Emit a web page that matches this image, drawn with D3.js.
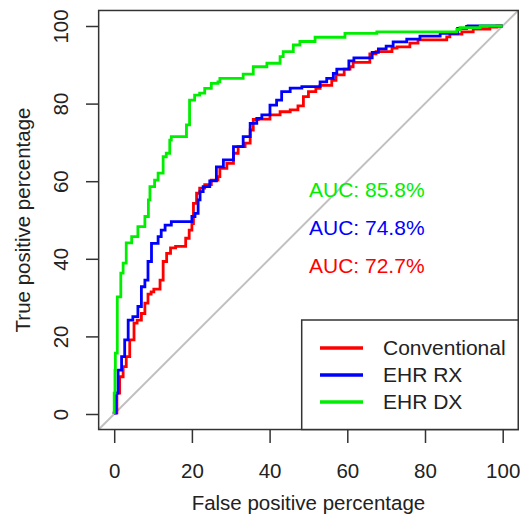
<!DOCTYPE html>
<html>
<head>
<meta charset="utf-8">
<script src="https://cdn.jsdelivr.net/npm/d3@7"></script>
<style>
  body { margin: 0; background: #fff; }
  text { font-family: "Liberation Sans", Arial, sans-serif; }
</style>
</head>
<body>
<div class="canvas"></div>
<script>
// ROC curves, values in percent (false positive %, true positive %)
let fprConventional = [0, 0.7, 1.4, 2.3, 3.1, 4.0, 5.1, 5.9, 7.0, 7.9, 8.7, 9.5, 10.2, 11.8, 12.6, 13.5, 14.5, 15.8, 18.4, 19.3, 20.0, 20.4, 21.2, 22.0, 23.3, 25.0, 26.7, 27.2, 29.0, 30.7, 31.9, 33.7, 35.0, 35.8, 37.1, 40.1, 42.7, 45.3, 47.3, 48.7, 50.0, 51.9, 53.0, 56.0, 57.1, 59.2, 60.7, 61.5, 65.8, 67.4, 71.5, 72.8, 76.1, 78.2, 85.6, 86.4, 89.5, 92.4, 96.7, 98.5, 100];
let tprConventional = [0, 0.3, 5.4, 9.6, 12.2, 14.8, 19.1, 23.4, 24.2, 25.9, 28.6, 30.9, 31.5, 32.2, 34.5, 39.3, 41.4, 42.8, 43.2, 45.3, 47.4, 49.1, 54.3, 56.9, 58.2, 59.1, 60.3, 61.2, 63.3, 64.6, 67.2, 68.9, 69.8, 73.2, 75.9, 76.0, 77.1, 77.9, 78.4, 79.4, 81.8, 83.1, 83.9, 84.7, 86.0, 87.4, 88.9, 89.5, 90.6, 92.8, 93.4, 94.3, 94.6, 95.6, 96.4, 97.2, 97.9, 98.5, 99.2, 99.7, 100];

let fprRx = [0, 0.5, 1.0, 1.9, 2.7, 3.6, 4.8, 6.1, 7.0, 7.9, 8.7, 9.6, 11.3, 12.1, 13.1, 14.7, 16.4, 20.0, 20.8, 21.6, 22.1, 22.9, 24.6, 26.3, 28.1, 30.7, 33.2, 35.0, 36.7, 38.0, 40.1, 41.8, 43.1, 45.3, 48.3, 53.0, 54.7, 56.4, 57.3, 60.4, 61.7, 66.4, 68.0, 70.0, 71.8, 75.3, 78.7, 83.9, 88.4, 90.7, 91.1, 100];
let tprRx = [0, 0.2, 5.4, 11.3, 14.8, 19.1, 24.2, 25.1, 27.7, 32.8, 34.5, 39.3, 44.0, 45.7, 47.4, 48.7, 49.6, 49.6, 50.9, 51.7, 55.2, 57.3, 58.6, 60.1, 63.7, 65.5, 68.9, 71.5, 74.9, 76.2, 77.1, 79.6, 80.9, 83.1, 84.0, 84.4, 85.6, 86.5, 87.8, 88.9, 91.0, 91.8, 93.2, 94.1, 94.8, 95.9, 96.6, 97.4, 98.1, 99.4, 99.9, 100];

let fprDx = [0, 0.2, 0.3, 0.8, 1.7, 2.3, 3.1, 4.5, 6.1, 7.9, 8.8, 9.2, 10.4, 11.3, 12.6, 13.4, 14.3, 14.7, 16.0, 18.6, 19.4, 20.7, 22.0, 23.3, 25.0, 26.7, 27.2, 33.2, 35.8, 39.3, 42.7, 43.5, 46.1, 47.8, 51.7, 59.4, 67.6, 88.2, 89.0, 94.2, 100];
let tprDx = [0, 5.4, 11.3, 15.7, 30.2, 36.3, 38.9, 44.1, 45.7, 48.3, 50.9, 55.2, 58.6, 60.3, 62.1, 66.3, 67.2, 70.6, 71.5, 71.5, 74.5, 80.9, 82.2, 82.7, 83.9, 85.2, 85.6, 86.5, 87.6, 89.5, 90.4, 92.1, 93.4, 95.1, 96.0, 97.1, 98.1, 98.5, 99.1, 99.6, 100];

let seriesNames = ['Conventional', 'EHR RX', 'EHR DX'];
let seriesColors = ['#ff0000', '#0000ff', '#00ee00'];
let aucLabels = ['AUC: 72.7%', 'AUC: 74.8%', 'AUC: 85.8%'];
let tickValues = [0, 20, 40, 60, 80, 100];

let svg = d3.select(".canvas").append("svg").attr("width", 520).attr("height", 518);

let x = d3.scaleLinear().domain([0, 100]).range([114.2, 502.7]);
let y = d3.scaleLinear().domain([0, 100]).range([414, 26]);

// diagonal (chance) line across the plot region
svg.append('line')
    .attr('x1', x(-4)).attr('y1', y(-4))
    .attr('x2', x(104)).attr('y2', y(104))
    .attr('stroke', '#c0c0c0')
    .attr('stroke-width', 2);

// curves
let curves = [
    d3.zip(fprConventional, tprConventional),
    d3.zip(fprRx, tprRx),
    d3.zip(fprDx, tprDx)
];

let line = d3.line().x(d => x(d[0])).y(d => y(d[1])).curve(d3.curveStepBefore);

curves.forEach((pts, i) => {
    svg.append('path')
        .attr('d', line(pts))
        .attr('fill', 'none')
        .attr('stroke', seriesColors[i])
        .attr('stroke-width', 2.8);
});

// AUC labels
let aucY = [273, 235, 196.5];
aucLabels.forEach((t, i) => {
    svg.append('text')
        .text(t)
        .attr('x', 309)
        .attr('y', aucY[i])
        .attr('font-size', 21)
        .attr('fill', seriesColors[i]);
});

// axes
let xAxis = svg.append('g')
    .attr('transform', 'translate(0,430)')
    .call(d3.axisBottom(x).tickValues(tickValues).tickSize(13).tickPadding(20));
xAxis.select('.domain').remove();
xAxis.selectAll('line').attr('stroke', '#333').attr('stroke-width', 1.5);
xAxis.selectAll('text').attr('font-size', 20.5).attr('fill', '#222')
    .attr('font-family', '"Liberation Sans", Arial, sans-serif');

let yAxis = svg.append('g')
    .attr('transform', 'translate(99,0)')
    .call(d3.axisLeft(y).tickValues(tickValues).tickSize(13));
yAxis.select('.domain').remove();
yAxis.selectAll('line').attr('stroke', '#333').attr('stroke-width', 1.5);
yAxis.selectAll('text')
    .attr('x', null).attr('dy', null)
    .attr('transform', 'translate(-31,0) rotate(-90)')
    .attr('text-anchor', 'middle')
    .attr('font-size', 20.5).attr('fill', '#222')
    .attr('font-family', '"Liberation Sans", Arial, sans-serif');

// plot box
svg.append('rect')
    .attr('x', x(-4)).attr('y', y(104))
    .attr('width', x(104) - x(-4)).attr('height', y(-4) - y(104))
    .attr('fill', 'none')
    .attr('stroke', '#333')
    .attr('stroke-width', 1.5);

// axis titles
svg.append('text')
    .text('False positive percentage')
    .attr('x', (x(0) + x(100)) / 2)
    .attr('y', 510)
    .attr('text-anchor', 'middle')
    .attr('font-size', 20.5)
    .attr('fill', '#222');

svg.append('text')
    .text('True positive percentage')
    .attr('transform', 'translate(30,' + (y(0) + y(100)) / 2 + ') rotate(-90)')
    .attr('text-anchor', 'middle')
    .attr('font-size', 20.5)
    .attr('fill', '#222');

// legend
let legend = svg.append('g');
legend.append('rect')
    .attr('x', 301.7).attr('y', 320)
    .attr('width', x(104) - 301.7).attr('height', y(-4) - 320)
    .attr('fill', '#fff')
    .attr('stroke', '#333')
    .attr('stroke-width', 1.5);

let legendY = [348, 375, 402];
seriesNames.forEach((name, i) => {
    legend.append('line')
        .attr('x1', 320).attr('x2', 363)
        .attr('y1', legendY[i]).attr('y2', legendY[i])
        .attr('stroke', seriesColors[i])
        .attr('stroke-width', 3.5);
    legend.append('text')
        .text(name)
        .attr('x', 383)
        .attr('y', legendY[i])
        .attr('dy', '0.35em')
        .attr('font-size', 21)
        .attr('fill', '#222');
});
</script>
</body>
</html>
